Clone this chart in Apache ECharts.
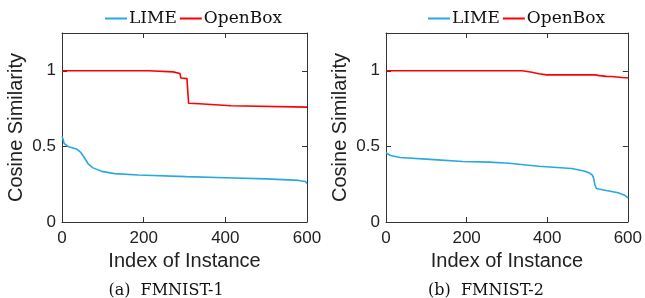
<!DOCTYPE html>
<html>
<head>
<meta charset="utf-8">
<script src="https://cdn.jsdelivr.net/npm/echarts@6/dist/echarts.min.js"></script>
<style>
  html, body { margin: 0; padding: 0; background: #fff; }
  #chart { width: 645px; height: 298px; }
</style>
</head>
<body>
<div id="chart"></div>
<script>
// 数据：index of instance / cosine similarity
var xTicks = [0, 200, 400, 600];
var yTicks = [0, 0.5, 1];
var captions = ["(a)  FMNIST-1", "(b)  FMNIST-2"];

var lime1Idx = [0, 3, 5, 15, 35, 46, 56, 64, 76, 97, 129, 187, 305, 400, 500, 580, 596, 600];
var lime1Val = [0.565, 0.545, 0.52, 0.5, 0.483, 0.46, 0.42, 0.385, 0.358, 0.335, 0.32, 0.311, 0.3, 0.293, 0.285, 0.275, 0.268, 0.255];
var open1Idx = [0, 212, 214, 272, 276, 289, 291, 306, 310, 336, 339, 414, 417, 600];
var open1Val = [1.0, 1.0, 0.996, 0.993, 0.985, 0.982, 0.952, 0.948, 0.785, 0.782, 0.772, 0.769, 0.763, 0.76];

var lime2Idx = [0, 5, 11, 35, 109, 190, 256, 305, 379, 461, 494, 506, 512, 515, 518, 522, 543, 576, 592, 600];
var lime2Val = [0.458, 0.45, 0.44, 0.427, 0.414, 0.4, 0.396, 0.389, 0.369, 0.354, 0.336, 0.322, 0.31, 0.292, 0.25, 0.221, 0.21, 0.193, 0.177, 0.16];
var open2Idx = [0, 338, 362, 379, 399, 518, 530, 547, 560, 585, 596, 600];
var open2Val = [1.0, 1.0, 0.99, 0.98, 0.973, 0.973, 0.968, 0.963, 0.962, 0.956, 0.954, 0.953];

function zip(xs, ys) {
  return xs.map(function (x, i) { return [x, ys[i]]; });
}

var sans = "Liberation Sans";
var serif = "DejaVu Serif";
var axisColor = "#333";
var limeColor = "#28A9E1";
var openColor = "#FF0000";

var grids = [
  { left: 62, width: 245, top: 33, height: 189 },
  { left: 386, width: 244, top: 33, height: 189 }
];

function mainX(g) {
  return {
    type: "value", gridIndex: g, min: 0, max: 600, interval: 200,
    name: "Index of Instance", nameLocation: "middle", nameGap: 22,
    nameTextStyle: { fontFamily: sans, fontSize: 20, color: "#222" },
    axisLine: { show: true, onZero: false, lineStyle: { color: axisColor } },
    axisTick: { show: true, inside: true, length: 5, lineStyle: { color: axisColor } },
    axisLabel: { fontFamily: sans, fontSize: 17, color: "#222", margin: 8 },
    splitLine: { show: false }
  };
}
function topX(g) {
  return {
    type: "value", gridIndex: g, position: "top", min: 0, max: 600, interval: 200,
    axisLine: { show: true, onZero: false, lineStyle: { color: axisColor } },
    axisTick: { show: true, inside: true, length: 5, lineStyle: { color: axisColor } },
    axisLabel: { show: false },
    splitLine: { show: false }
  };
}
function mainY(g) {
  return {
    type: "value", gridIndex: g, min: 0, max: 1.25, interval: 0.5,
    name: "Cosine Similarity", nameLocation: "middle", nameGap: 36,
    nameTextStyle: { fontFamily: sans, fontSize: 20, color: "#222" },
    axisLine: { show: true, onZero: false, lineStyle: { color: axisColor } },
    axisTick: { show: true, inside: true, length: 5, lineStyle: { color: axisColor } },
    axisLabel: {
      fontFamily: sans, fontSize: 17, color: "#222", margin: 6, showMaxLabel: false,
      formatter: function (v) { return yTicks.indexOf(v) >= 0 ? String(v) : ""; }
    },
    splitLine: { show: false }
  };
}
function rightY(g) {
  return {
    type: "value", gridIndex: g, position: "right", min: 0, max: 1.25, interval: 0.5,
    axisLine: { show: true, onZero: false, lineStyle: { color: axisColor } },
    axisTick: { show: true, inside: true, length: 5, lineStyle: { color: axisColor } },
    axisLabel: { show: false },
    splitLine: { show: false }
  };
}

function lineSeries(name, data, color, axis) {
  return {
    name: name, type: "line", data: data,
    xAxisIndex: axis, yAxisIndex: axis,
    showSymbol: false, symbol: "none", animation: false,
    lineStyle: { color: color, width: 1.6 },
    itemStyle: { color: color }
  };
}

function legendAt(left) {
  return {
    left: left, top: 5, itemWidth: 22, itemHeight: 2, itemGap: 3,
    icon: "rect", selectedMode: false,
    textStyle: { fontFamily: serif, fontSize: 17, color: "#111", padding: [0, 0, 0, -3] },
    data: ["LIME", "OpenBox"]
  };
}

var chart = echarts.init(document.getElementById("chart"));
var option = {
  animation: false,
  backgroundColor: "#fff",
  grid: grids,
  legend: [legendAt(100), legendAt(423)],
  title: [
    { text: captions[0], left: 161, top: 278, textAlign: "center",
      textStyle: { fontFamily: serif, fontSize: 16, fontWeight: "normal", color: "#111" } },
    { text: captions[1], left: 481, top: 278, textAlign: "center",
      textStyle: { fontFamily: serif, fontSize: 16, fontWeight: "normal", color: "#111" } }
  ],
  xAxis: [mainX(0), mainX(1), topX(0), topX(1)],
  yAxis: [mainY(0), mainY(1), rightY(0), rightY(1)],
  series: [
    lineSeries("LIME", zip(lime1Idx, lime1Val), limeColor, 0),
    lineSeries("OpenBox", zip(open1Idx, open1Val), openColor, 0),
    lineSeries("LIME", zip(lime2Idx, lime2Val), limeColor, 1),
    lineSeries("OpenBox", zip(open2Idx, open2Val), openColor, 1)
  ]
};
chart.setOption(option);
</script>
</body>
</html>
